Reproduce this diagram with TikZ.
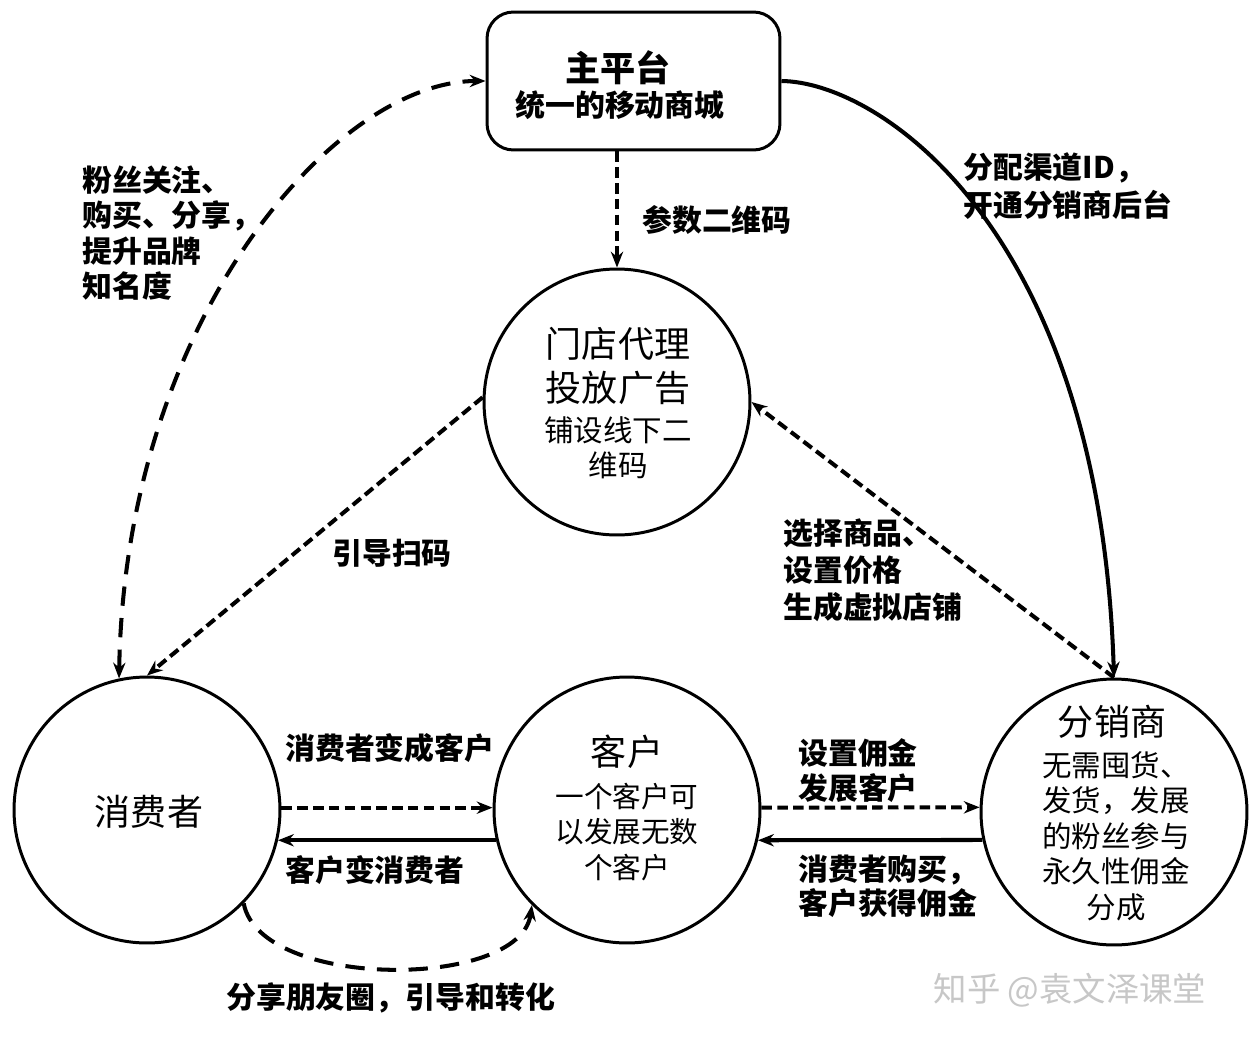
\documentclass[tikz,border=0pt]{standalone}
\usepackage{fontspec}
\setmainfont{Noto Sans CJK SC}
\usetikzlibrary{arrows.meta}
\begin{document}
\begin{tikzpicture}[x=0.02cm,y=-0.02cm,
  circ/.style={draw,circle,line width=1.7pt,minimum size=5.32cm,inner sep=0},
  lbl/.style={font=\bfseries\fontsize{17}{20}\selectfont,align=left,anchor=west,inner sep=0},
  big/.style={font=\fontsize{20.5}{25}\selectfont,align=center,inner sep=0},
  small/.style={font=\fontsize{16.8}{20.2}\selectfont,align=center,inner sep=0},
  tip/.style={-{Stealth[length=9pt,width=7pt]}},
  bothtip/.style={{Stealth[length=9pt,width=7pt]}-{Stealth[length=9pt,width=7pt]}},
  sdash/.style={line width=2.3pt,dash pattern=on 6pt off 3pt},
  ldash/.style={line width=2.3pt,dash pattern=on 11pt off 7pt},
  solidln/.style={line width=2.3pt},
]
\useasboundingbox (0,0) rectangle (1254,1038);
\fill[white] (0,0) rectangle (1254,1038);

% nodes
\node[draw,line width=1.7pt,rounded corners=15pt,minimum width=5.86cm,minimum height=2.76cm,inner sep=0] (main) at (633.5,81) {};
\node[font=\bfseries\fontsize{20}{24}\selectfont,inner sep=0] (mainT) at (618,68) {主平台};
\node[font=\bfseries\fontsize{17}{20}\selectfont,inner sep=0] (mainS) at (620,105) {统一的移动商城};

\node[circ] (men) at (617,402) {};
\node[big] (menT) at (618,366) {门店代理\\投放广告};
\node[small] (menS) at (618,448) {铺设线下二\\维码};

\node[circ] (cons) at (147,810) {};
\node[big] (consT) at (149,812) {消费者};

\node[circ] (kh) at (627,810) {};
\node[big] (khT) at (627,752) {客户};
\node[font=\fontsize{16.3}{20}\selectfont,align=center,inner sep=0] (khS) at (627,832) {一个客户可\\以发展无数\\个客户};

\node[circ] (fen) at (1114,812) {};
\node[big] (fenT) at (1112,722) {分销商};
\node[small] (fenS) at (1116,836) {无需囤货、\\发货，发展\\的粉丝参与\\永久性佣金\\分成};

% labels
\node[lbl] (l1) at (82,233) {粉丝关注、\\购买、分享，\\提升品牌\\知名度};
\node[lbl] (l2) at (642,220) {参数二维码};
\node[lbl,font=\bfseries\fontsize{17}{21.5}\selectfont] (l3) at (963,186) {分配渠道ID，\\开通分销商后台};
\node[lbl] (l4) at (332,553) {引导扫码};
\node[lbl,font=\bfseries\fontsize{17}{21}\selectfont] (l5) at (783,570) {选择商品、\\设置价格\\生成虚拟店铺};
\node[lbl] (l6) at (285,748) {消费者变成客户};
\node[lbl] (l7) at (285,870) {客户变消费者};
\node[lbl] (l8) at (798,771) {设置佣金\\发展客户};
\node[lbl,font=\bfseries\fontsize{17}{19.5}\selectfont] (l9) at (798,886) {消费者购买，\\客户获得佣金};
\node[lbl] (l10) at (226,998) {分享朋友圈，引导和转化};

\node[font=\fontsize{19}{22}\selectfont,text=black!22,inner sep=0] (wm) at (1070,990) {知乎 @袁文泽课堂};

% connectors
\draw[sdash,tip] (men.north |- main.south) -- (men.north);
\draw[ldash,bothtip] (cons.102) .. controls (125,320) and (335,81) .. (main.west);
\draw[solidln,tip] (main.east) .. controls (880,82) and (1100,230) .. (fen.north);
\draw[sdash,tip] (men.178) -- (cons.north);
\draw[sdash,tip] (fen.north) -- (men.east);
\draw[sdash,tip] (cons.1) -- (kh.179);
\draw[solidln,tip] (kh.193) -- (cons.-13);
\draw[sdash,tip] (kh.1) -- (fen.178);
\draw[solidln,tip] (fen.192) -- (kh.-13);
\draw[ldash,tip] (cons.-44) .. controls (260,990) and (520,990) .. (kh.-135);
\end{tikzpicture}
\end{document}
